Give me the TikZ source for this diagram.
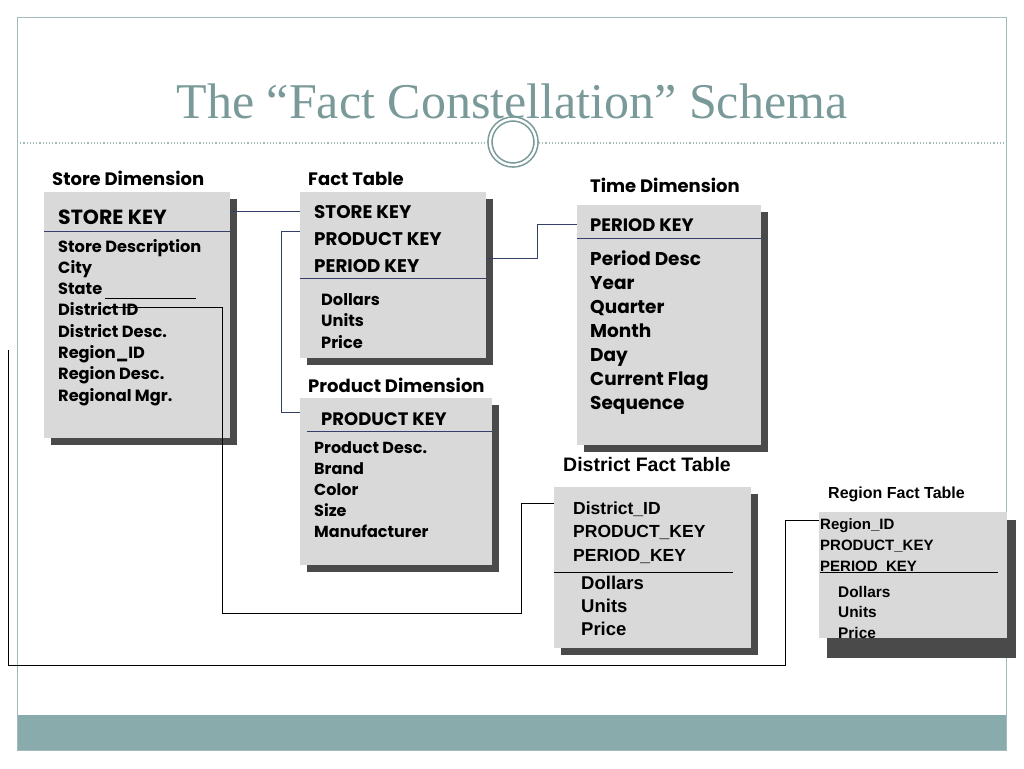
\documentclass[tikz,border=0pt]{standalone}
\usepackage{fontspec}
\setmainfont{Poppins}
\newfontfamily\arialfont{Liberation Sans}
\newfontfamily\titlefont{Liberation Serif}
\usetikzlibrary{shadows}

\definecolor{boxgray}{HTML}{D9D9D9}
\definecolor{shadowgray}{HTML}{4A4A4A}
\definecolor{navy}{HTML}{34406A}
\definecolor{titlecol}{HTML}{7A9A9A}
\definecolor{framecol}{HTML}{A3BABA}
\definecolor{bandcol}{HTML}{8AABAB}

\tikzset{
  tbl/.style={fill=boxgray, anchor=north west, inner sep=0pt,
    drop shadow={shadow xshift=7pt, shadow yshift=-7pt, fill=shadowgray, opacity=1}},
  txt/.style={anchor=west, inner sep=0pt, text height=.7em, text depth=0pt, yshift=-3.5pt},
  hdr/.style={txt, font=\fontsize{18}{18}\selectfont\bfseries},
  link/.style={navy, line width=.9pt},
  blk/.style={black, line width=.9pt},
  sep/.style={navy, line width=.9pt}
}

\begin{document}
\begin{tikzpicture}[x=1pt, y=-1pt]
  \useasboundingbox[fill=white] (0,0) rectangle (1024,768);
  % slide frame
  \fill[bandcol] (17,715) rectangle (1006,750);
  \draw[framecol] (17,17) rectangle (1006,750);
  \node[font=\titlefont\fontsize{50}{50}\selectfont, text=titlecol, anchor=base] (title) at (512,118)
    {The “Fact Constellation” Schema};
  \draw[framecol, dotted, line width=1.2pt] (17,143) -- (487,143);
  \draw[framecol, dotted, line width=1.2pt] (539,143) -- (1006,143);
  \draw[titlecol, line width=1.6pt, double=white, double distance=2.4pt, fill=white] (513,142) circle (23);

  % store dimension
  \node[hdr] (storehd) at (52,178) {Store Dimension};
  \node[tbl, minimum width=186pt, minimum height=246pt] (store) at (44,192) {};
  \draw[sep] ([yshift=-39pt]store.north west) -- ([yshift=-39pt]store.north east);
  \node[txt, font=\fontsize{20.5}{20}\selectfont\bfseries] (sk) at (58,217) {STORE KEY};
  \foreach \t [count=\i] in {Store Description, City, State, District ID, District Desc.,
      Region\_ID, Region Desc., Regional Mgr.}
    \node[txt, font=\fontsize{16.2}{17}\selectfont\bfseries] (s\i) at (58,{245+(\i-1)*21.3}) {\t};
  \draw[blk] (105,298) -- (196,298);

  % fact table
  \node[hdr] (facthd) at (308,178) {Fact Table};
  \node[tbl, minimum width=186pt, minimum height=166pt] (fact) at (300,192) {};
  \draw[sep] ([yshift=-86pt]fact.north west) -- ([yshift=-86pt]fact.north east);
  \foreach \t [count=\i] in {STORE KEY, PRODUCT KEY, PERIOD KEY}
    \node[txt, font=\fontsize{18.3}{18}\selectfont\bfseries] (fk\i) at (314,{211+(\i-1)*27}) {\t};
  \foreach \t [count=\i] in {Dollars, Units, Price}
    \node[txt, font=\fontsize{16.2}{17}\selectfont\bfseries] (fm\i) at (321,{298+(\i-1)*21.5}) {\t};

  % time dimension
  \node[hdr] (timehd) at (590,185) {Time Dimension};
  \node[tbl, minimum width=184pt, minimum height=240pt] (time) at (577,205) {};
  \draw[sep] ([yshift=-33pt]time.north west) -- ([yshift=-33pt]time.north east);
  \node[txt, font=\fontsize{18}{18}\selectfont\bfseries] (tk) at (590,224) {PERIOD KEY};
  \foreach \t [count=\i] in {Period Desc, Year, Quarter, Month, Day, Current Flag, Sequence}
    \node[txt, font=\fontsize{18.5}{19}\selectfont\bfseries] (t\i) at (590,{258+(\i-1)*24}) {\t};

  % product dimension
  \node[hdr] (prodhd) at (308,385) {Product Dimension};
  \node[tbl, minimum width=192pt, minimum height=167pt] (prod) at (300,398) {};
  \draw[sep] ([shift={(7pt,-33pt)}]prod.north west) -- ([yshift=-33pt]prod.north east);
  \node[txt, font=\fontsize{18}{18}\selectfont\bfseries] (pk) at (321,418) {PRODUCT KEY};
  \foreach \t [count=\i] in {Product Desc., Brand, Color, Size, Manufacturer}
    \node[txt, font=\fontsize{16}{17}\selectfont\bfseries] (p\i) at (314,{446+(\i-1)*21.2}) {\t};

  % district fact table
  \node[hdr, font=\arialfont\fontsize{19.5}{19}\selectfont\bfseries] (disthd) at (563,464) {District Fact Table};
  \node[tbl, minimum width=197pt, minimum height=161pt] (dist) at (554,487) {};
  \draw[blk] ([yshift=-85pt]dist.north west) -- ([shift={(-18pt,-85pt)}]dist.north east);
  \foreach \t [count=\i] in {District\_ID, PRODUCT\_KEY, PERIOD\_KEY}
    \node[txt, font=\arialfont\fontsize{17.5}{18}\selectfont\bfseries] (dk\i) at (573,{507+(\i-1)*23.5}) {\t};
  \foreach \t [count=\i] in {Dollars, Units, Price}
    \node[txt, font=\arialfont\fontsize{18.5}{18}\selectfont\bfseries] (dm\i) at (581,{582+(\i-1)*23}) {\t};

  % region fact table
  \node[hdr, font=\arialfont\fontsize{16}{16}\selectfont\bfseries] (reghd) at (828,491) {Region Fact Table};
  \fill[shadowgray] (827,520) rectangle (1016,658);
  \node[fill=boxgray, anchor=north west, inner sep=0pt, minimum width=188pt, minimum height=126pt] (reg) at (819,512) {};
  \foreach \t [count=\i] in {Region\_ID, PRODUCT\_KEY, PERIOD\_KEY}
    \node[txt, font=\arialfont\fontsize{15}{15}\selectfont\bfseries] (rk\i) at (820,{522+(\i-1)*21}) {\t};
  \draw[blk] ([shift={(1pt,-60pt)}]reg.north west) -- ([shift={(-9pt,-60pt)}]reg.north east);
  \foreach \t [count=\i] in {Dollars, Units, Price}
    \node[txt, font=\arialfont\fontsize{15.4}{15}\selectfont\bfseries] (rm\i) at (838,{590+(\i-1)*20.5}) {\t};

  % connectors
  \draw[link] (store.east |- 0,211) -- (fact.west |- 0,211);
  \draw[link] ([yshift=-39pt]fact.north west) -- ++(-19,0) |- ([yshift=-14pt]prod.north west);
  \draw[link] ([yshift=17pt]fact.east) -- ++(51,0) |- (time.west |- 0,224);
  \coordinate (sdid) at (104,307);
  \draw[blk] (sdid) -| (222,613) -| (521,503) -- ([yshift=-16pt]dist.north west);
  \coordinate (lft) at (8,350);
  \draw[blk] (lft) |- (785,665) |- ([yshift=-8pt]reg.north west);
\end{tikzpicture}
\end{document}
